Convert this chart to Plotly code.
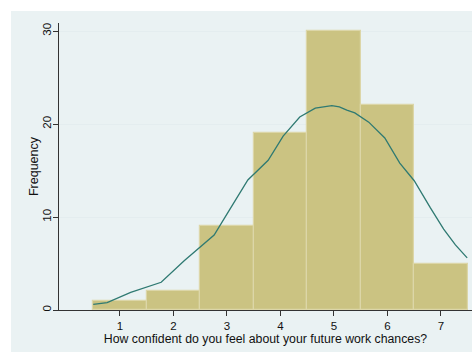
import plotly.graph_objects as go

# Data
categories = [1, 2, 3, 4, 5, 6, 7]
frequencies = [1, 2, 9, 19, 30, 22, 5]
curve_x = [0.50, 0.76, 1.20, 1.77, 2.20, 2.76, 3.05, 3.39, 3.77, 4.05, 4.36, 4.65, 4.96, 5.10, 5.24, 5.39, 5.65, 5.95, 6.23, 6.50, 6.80, 7.05, 7.27, 7.49]
curve_y = [0.61, 0.79, 1.90, 2.98, 5.30, 8.06, 10.8, 13.98, 16.1, 18.7, 20.75, 21.7, 21.97, 21.85, 21.5, 21.2, 20.2, 18.5, 15.8, 13.9, 11.0, 8.7, 7.0, 5.6]
y_ticks = [0, 10, 20, 30]
x_ticks = [1, 2, 3, 4, 5, 6, 7]

fig = go.Figure()
fig.add_trace(go.Bar(
    x=categories, y=frequencies, width=1.0,
    marker=dict(color="#CBC382", line=dict(color="#DCD6A8", width=1.2)),
    showlegend=False,
))
fig.add_trace(go.Scatter(
    x=curve_x, y=curve_y, mode="lines",
    line=dict(color="#2F7A72", width=1.3),
    showlegend=False,
))

W, H = 472, 352
l, r, t, b = 59, 0, 23, 42
pw, ph = W - l - r, H - t - b
fig.add_shape(type="rect", xref="paper", yref="paper",
              x0=(11 - l) / pw, x1=1.05, y0=-(b + 5) / ph, y1=1 + (t - 11) / ph,
              fillcolor="#EAF2F3", line=dict(width=0), layer="below")

fig.update_layout(
    width=W, height=H,
    margin=dict(l=l, r=r, t=t, b=b),
    paper_bgcolor="white", plot_bgcolor="white",
    font=dict(family="Liberation Sans, Arial, sans-serif", size=11.5, color="#111"),
    bargap=0,
)
fig.update_xaxes(
    range=[-0.14, 7.58], tickvals=x_ticks, ticks="outside", ticklen=5,
    tickcolor="#333", showline=True, linecolor="#333", linewidth=1,
    showgrid=False, zeroline=False, automargin=False,
    title=dict(text="How confident do you feel about your future work chances?",
               font=dict(size=12.3), standoff=2),
    tickfont=dict(size=11.5),
)
fig.update_yaxes(
    range=[0, 30.86], tickvals=y_ticks, ticks="outside", ticklen=5,
    tickcolor="#333", showline=True, linecolor="#333", linewidth=1,
    showgrid=True, gridcolor="#E4EDEF", gridwidth=1, zeroline=False,
    tickangle=-90, automargin=False, ticklabelstandoff=-3,
    title=dict(text="Frequency", font=dict(size=12.5), standoff=0),
    tickfont=dict(size=11.5),
)

fig.write_html(
    "out.html",
    config={"displayModeBar": False},
    post_script="document.body.style.margin='0';document.body.style.overflow='hidden';",
)
